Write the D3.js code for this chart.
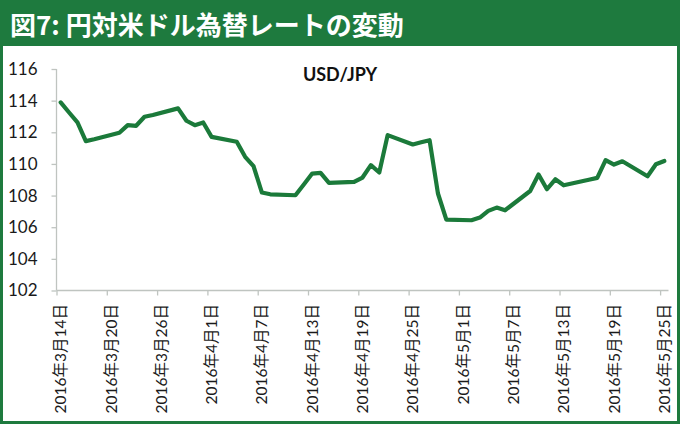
<!DOCTYPE html>
<html><head><meta charset="utf-8">
<script src="https://cdn.jsdelivr.net/npm/d3@7"></script>
<style>html,body{margin:0;padding:0;background:#fff;}svg{display:block;}</style>
</head><body>
<script>
const chartTitle = "図7: 円対米ドル為替レートの変動";
const seriesName = "USD/JPY";
const dates = [
 "2016-03-14","2016-03-15","2016-03-16","2016-03-17","2016-03-18","2016-03-21","2016-03-22","2016-03-23","2016-03-24","2016-03-25",
 "2016-03-28","2016-03-29","2016-03-30","2016-03-31","2016-04-01","2016-04-04","2016-04-05","2016-04-06","2016-04-07","2016-04-08",
 "2016-04-11","2016-04-12","2016-04-13","2016-04-14","2016-04-15","2016-04-18","2016-04-19","2016-04-20","2016-04-21","2016-04-22",
 "2016-04-25","2016-04-26","2016-04-27","2016-04-28","2016-04-29","2016-05-02","2016-05-03","2016-05-04","2016-05-05","2016-05-06",
 "2016-05-09","2016-05-10","2016-05-11","2016-05-12","2016-05-13","2016-05-16","2016-05-17","2016-05-18","2016-05-19","2016-05-20",
 "2016-05-23","2016-05-24","2016-05-25"];
const rates = [
 113.89,113.25,112.62,111.44,111.56,111.97,112.45,112.41,112.98,113.09,
 113.51,112.73,112.45,112.62,111.71,111.40,110.45,109.86,108.19,108.08,
 108.02,108.70,109.39,109.43,108.80,108.86,109.14,109.92,109.46,111.82,
 111.23,111.37,111.50,108.13,106.48,106.44,106.61,107.03,107.24,107.07,
 108.29,109.33,108.40,109.03,108.65,109.00,109.12,110.24,109.96,110.17,
 109.22,109.98,110.19];
const xTickDates = ["2016-03-14","2016-03-20","2016-03-26","2016-04-01","2016-04-07","2016-04-13","2016-04-19","2016-04-25","2016-05-01","2016-05-07","2016-05-13","2016-05-19","2016-05-25"];
const xTickLabels = ["2016年3月14日","2016年3月20日","2016年3月26日","2016年4月1日","2016年4月7日","2016年4月13日","2016年4月19日","2016年4月25日","2016年5月1日","2016年5月7日","2016年5月13日","2016年5月19日","2016年5月25日"];
const yTicks = [102,104,106,108,110,112,114,116];

const W = 680, H = 424;
const green = "#1e7a3e";
const axisCol = "#bfc4c0";
const parse = d3.utcParse("%Y-%m-%d");
const HALF = 12*3600*1000;

const svg = d3.select("body").append("svg").attr("width", W).attr("height", H);
svg.append("rect").attr("x",0).attr("y",0).attr("width",W).attr("height",H).attr("fill","#fff");
svg.append("rect").attr("x",0).attr("y",0).attr("width",W).attr("height",46).attr("fill",green);
svg.append("rect").attr("x",1.5).attr("y",1.5).attr("width",W-3).attr("height",H-3)
  .attr("fill","none").attr("stroke",green).attr("stroke-width",3);
svg.append("text").attr("x",10).attr("y",35).text(chartTitle)
  .attr("fill","#fff").attr("font-family","'Noto Sans CJK JP'").attr("font-weight",700).attr("font-size",26);

const x = d3.scaleUtc().domain([parse("2016-03-14"), parse("2016-05-26")]).range([56.5, 668.5]);
const y = d3.scaleLinear().domain([102,116]).range([290.5, 69]);

// y axis
const yAxis = svg.append("g").attr("transform","translate(56.5,0)")
  .call(d3.axisLeft(y).tickValues(yTicks).tickSize(5).tickPadding(14).tickFormat(d3.format("d")));
yAxis.select(".domain").attr("stroke",axisCol).attr("stroke-width",1.3).attr("d","M0,69V290.5");
yAxis.selectAll(".tick line").attr("stroke",axisCol).attr("stroke-width",1.3);
yAxis.selectAll(".tick text").attr("font-family","Lato, 'Noto Sans'").attr("font-size",17).attr("fill","#1a1a1a");

// x axis
const xAxis = svg.append("g").attr("transform","translate(0,290.5)")
  .call(d3.axisBottom(x).tickValues(xTickDates.map(parse)).tickSize(5).tickFormat(""));
xAxis.select(".domain").attr("stroke",axisCol).attr("stroke-width",1.3).attr("d","M56.5,0H668.5");
xAxis.selectAll(".tick line").attr("stroke",axisCol).attr("stroke-width",1.3);

svg.append("g").selectAll("text").data(xTickDates).join("text")
  .attr("transform",(d)=>`translate(${x(new Date(parse(d).getTime()+HALF))},304) rotate(-90)`)
  .attr("text-anchor","end").attr("dy","0.36em")
  .attr("font-family","Lato, 'Noto Sans CJK JP'").attr("font-size",15.5).attr("fill","#1a1a1a")
  .text((d,i)=>xTickLabels[i]);

svg.append("text").attr("x",340).attr("y",81).attr("text-anchor","middle")
  .attr("font-family","Lato, 'Noto Sans'").attr("font-weight",700).attr("font-size",18).attr("fill","#111")
  .text(seriesName);

const pts = dates.map((d,i)=>({t:new Date(parse(d).getTime()+HALF), v:rates[i]}));
svg.append("path").datum(pts)
  .attr("d", d3.line().x(p=>x(p.t)).y(p=>y(p.v)))
  .attr("fill","none").attr("stroke","#1b7a3a").attr("stroke-width",4.2).attr("stroke-linejoin","round").attr("stroke-linecap","round");
</script>
</body></html>
